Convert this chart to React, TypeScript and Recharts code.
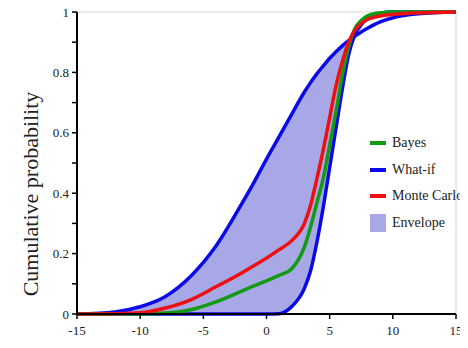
import { ComposedChart, Area, Line, XAxis, YAxis, ReferenceLine } from 'recharts';

const xs = [-15, -12, -10, -8, -6, -4, -2, -1, 0, 1, 2, 3, 3.5, 4, 4.5, 5, 5.5, 6, 6.5, 7, 7.5, 8, 9, 10, 12, 15];
const whatIfHigh = [0, 0.007, 0.024, 0.058, 0.125, 0.225, 0.362, 0.435, 0.513, 0.587, 0.662, 0.735, 0.767, 0.796, 0.822, 0.847, 0.868, 0.888, 0.905, 0.92, 0.934, 0.946, 0.967, 0.981, 0.994, 1];
const whatIfLow = [0, 0, 0, 0, 0, 0, 0, 0, 0, 0.001, 0.025, 0.085, 0.145, 0.24, 0.355, 0.485, 0.615, 0.745, 0.858, 0.925, 0.958, 0.98, 0.996, 1, 1, 1];
const monteCarlo = [0, 0.001, 0.004, 0.02, 0.047, 0.09, 0.135, 0.16, 0.185, 0.213, 0.243, 0.3, 0.362, 0.45, 0.545, 0.65, 0.755, 0.835, 0.9, 0.94, 0.962, 0.975, 0.987, 0.992, 0.997, 1];
const bayes = [0, 0, 0, 0.003, 0.014, 0.04, 0.075, 0.093, 0.11, 0.128, 0.15, 0.222, 0.29, 0.37, 0.45, 0.56, 0.67, 0.79, 0.885, 0.945, 0.972, 0.987, 0.997, 1, 1, 1];

const xTicks = [-15, -10, -5, 0, 5, 10, 15];
const yTicks = [0, 0.1, 0.2, 0.3, 0.4, 0.5, 0.6, 0.7, 0.8, 0.9, 1];
const yLabels = ['0', '', '0.2', '', '0.4', '', '0.6', '', '0.8', '', '1'];

const BLUE = '#0a0ae6';
const GREEN = '#129a12';
const RED = '#ee1010';
const FILL = '#a8a8e6';
const FONT = '"Liberation Serif", "Times New Roman", serif';

const legendItems = [
  { name: 'Bayes', color: GREEN, kind: 'line' },
  { name: 'What-if', color: BLUE, kind: 'line' },
  { name: 'Monte Carlo', color: RED, kind: 'line' },
  { name: 'Envelope', color: FILL, kind: 'box' },
];

const data = xs.map((x, i) => ({
  x,
  bayes: bayes[i],
  low: whatIfLow[i],
  high: whatIfHigh[i],
  mc: monteCarlo[i],
  envelope: [whatIfLow[i], Math.max(whatIfLow[i], whatIfHigh[i])],
}));

function XTick(props: any) {
  const { x, y, payload } = props;
  return (
    <text x={x} y={y + 4} textAnchor="middle" dominantBaseline="hanging" fontFamily={FONT} style={{ fontFamily: FONT, fontSize: 13, fill: '#222' }}>
      {payload.value}
    </text>
  );
}

function YTick(props: any) {
  const { x, y, payload } = props;
  const label = yLabels[yTicks.indexOf(payload.value)] ?? '';
  return (
    <text x={x - 1} y={y} textAnchor="end" dominantBaseline="central" fontFamily={FONT} style={{ fontFamily: FONT, fontSize: 13, fill: '#222' }}>
      {label}
    </text>
  );
}

function LegendBox() {
  return (
    <div style={{ position: 'absolute', left: 370, top: 130, fontFamily: FONT, fontSize: 14, color: '#222' }}>
      {legendItems.map((it) => (
        <div key={it.name} style={{ display: 'flex', alignItems: 'center', height: 26.5 }}>
          <div
            style={{
              width: 16,
              height: it.kind === 'line' ? 4 : 18,
              background: it.color,
              marginRight: 6,
            }}
          />
          <span style={{ whiteSpace: 'nowrap' }}>{it.name}</span>
        </div>
      ))}
    </div>
  );
}

function YTitle() {
  return (
    <text
      x={30}
      y={194}
      transform="rotate(-90 30 194)"
      textAnchor="middle"
      dominantBaseline="central"
      style={{ fontFamily: FONT, fontSize: 22, fill: '#222' }}
    >
      Cumulative probability
    </text>
  );
}

export default function App() {
  return (
    <div style={{ position: 'relative', width: 468, height: 348, margin: -8 }}>
      <ComposedChart width={468} height={348} data={data} margin={{ top: 12, right: 12, bottom: 0, left: 0 }}>
        <ReferenceLine y={1} stroke="#d4d4d4" strokeWidth={1} />
        <ReferenceLine x={15} stroke="#d4d4d4" strokeWidth={1} />
        <XAxis
          dataKey="x"
          type="number"
          domain={[-15, 15]}
          ticks={xTicks}
          height={34}
          axisLine={{ stroke: '#000', strokeWidth: 2 }}
          tickLine={{ stroke: '#000', strokeWidth: 1.5 }}
          tickSize={5}
          tick={<XTick />}
        />
        <YAxis
          type="number"
          domain={[0, 1]}
          ticks={yTicks}
          width={77}
          interval={0}
          axisLine={{ stroke: '#000', strokeWidth: 2 }}
          tickLine={{ stroke: '#000', strokeWidth: 1.5 }}
          tickSize={5}
          tick={<YTick />}
          label={{ content: () => <YTitle /> }}
        />
        <Area
          type="monotone"
          dataKey="envelope"
          stroke="none"
          fill={FILL}
          fillOpacity={1}
          isAnimationActive={false}
        />
        <Line type="monotone" dataKey="high" stroke={BLUE} strokeWidth={3.5} dot={false} isAnimationActive={false} />
        <Line type="monotone" dataKey="low" stroke={BLUE} strokeWidth={3.5} dot={false} isAnimationActive={false} />
        <Line type="monotone" dataKey="bayes" stroke={GREEN} strokeWidth={3.5} dot={false} isAnimationActive={false} />
        <Line type="monotone" dataKey="mc" stroke={RED} strokeWidth={3.5} dot={false} isAnimationActive={false} />
      </ComposedChart>
      <LegendBox />
    </div>
  );
}
